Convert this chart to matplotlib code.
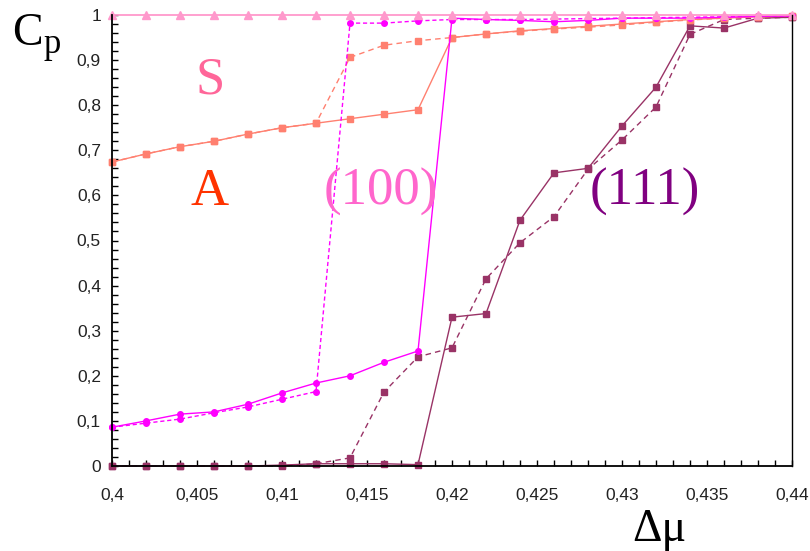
import matplotlib.pyplot as plt
from matplotlib.ticker import MultipleLocator, FixedLocator

# delta mu values (every 0.002)
dmu = [0.400, 0.402, 0.404, 0.406, 0.408, 0.410, 0.412, 0.414, 0.416, 0.418, 0.420,
       0.422, 0.424, 0.426, 0.428, 0.430, 0.432, 0.434, 0.436, 0.438, 0.440]

# S phase
s_cp = [1.0] * 21

# A phase (solid / dashed)
a_solid = [0.674, 0.692, 0.708, 0.720, 0.736, 0.750, 0.760, 0.770, 0.780, 0.790, 0.950,
           0.958, 0.965, 0.970, 0.975, 0.980, 0.985, 0.990, 0.993, 0.996, 0.998]
a_dash = [0.674, 0.692, 0.708, 0.720, 0.736, 0.750, 0.760, 0.906, 0.933, 0.943, 0.950,
          0.958, 0.964, 0.969, 0.973, 0.978, 0.984, 0.989, 0.993, 0.996, 0.998]

# (100) surface (solid / dashed)
f100_solid = [0.086, 0.100, 0.115, 0.120, 0.137, 0.162, 0.184, 0.200, 0.230, 0.255, 0.993,
              0.990, 0.988, 0.985, 0.988, 0.993, 0.993, 0.993, 0.995, 0.997, 0.998]
f100_dash = [0.086, 0.095, 0.104, 0.118, 0.131, 0.148, 0.165, 0.982, 0.982, 0.987, 0.990,
             0.990, 0.990, 0.991, 0.992, 0.993, 0.994, 0.995, 0.996, 0.997, 0.998]

# (111) surface (solid / dashed)
f111_solid = [0.0, 0.0, 0.0, 0.0, 0.0, 0.002, 0.005, 0.005, 0.005, 0.003, 0.330,
              0.338, 0.545, 0.650, 0.660, 0.754, 0.840, 0.976, 0.971, 0.993, 0.995]
f111_dash = [0.0, 0.0, 0.0, 0.0, 0.0, 0.0, 0.005, 0.018, 0.164, 0.242, 0.262,
             0.415, 0.495, 0.553, 0.658, 0.723, 0.796, 0.957, 0.990, 0.993, 0.995]

x_ticks = [0.40, 0.405, 0.41, 0.415, 0.42, 0.425, 0.43, 0.435, 0.44]
x_labels = ['0,4', '0,405', '0,41', '0,415', '0,42', '0,425', '0,43', '0,435', '0,44']
y_ticks = [0, 0.1, 0.2, 0.3, 0.4, 0.5, 0.6, 0.7, 0.8, 0.9, 1.0]
y_labels = ['0', '0,1', '0,2', '0,3', '0,4', '0,5', '0,6', '0,7', '0,8', '0,9', '1']

c_s = '#FF99CC'
c_a = '#FF8070'
c_100 = '#FF00FF'
c_111 = '#993366'

fig = plt.figure(figsize=(8.1, 5.51), dpi=100)
ax = fig.add_axes([112 / 810, 85 / 551, 680 / 810, 451 / 551])

lw = 1.0
ax.plot(dmu, f111_solid, color=c_111, lw=lw, marker='s', ms=4, clip_on=False)
ax.plot(dmu, f111_dash, color=c_111, lw=lw, ls=(0, (4, 3)), marker='s', ms=4, clip_on=False)
ax.plot(dmu, a_solid, color=c_a, lw=lw, marker='s', ms=4, clip_on=False)
ax.plot(dmu, a_dash, color=c_a, lw=lw, ls=(0, (4, 3)), marker='s', ms=4, clip_on=False)
ax.plot(dmu, f100_solid, color=c_100, lw=lw, marker='o', ms=4, clip_on=False)
ax.plot(dmu, f100_dash, color=c_100, lw=lw, ls=(0, (3, 2)), marker='o', ms=4, clip_on=False)
ax.plot(dmu, s_cp, color=c_s, lw=1.3, marker='^', ms=5.5, clip_on=False)

ax.set_xlim(0.4, 0.44)
ax.set_ylim(0, 1)

ax.xaxis.set_major_locator(FixedLocator(x_ticks))
ax.set_xticklabels(x_labels)
ax.xaxis.set_minor_locator(MultipleLocator(0.001))
ax.yaxis.set_major_locator(FixedLocator(y_ticks))
ax.set_yticklabels(y_labels)
ax.yaxis.set_minor_locator(MultipleLocator(0.02))

ax.tick_params(which='both', direction='in', length=4, width=1, color='black')
ax.tick_params(axis='x', which='major', pad=16)
ax.tick_params(axis='y', which='major', pad=8)
for lab in ax.get_xticklabels() + ax.get_yticklabels():
    lab.set_fontfamily('Liberation Sans')
    lab.set_fontsize(12.5)
    lab.set_color('#222222')

ax.spines['top'].set_visible(False)
for side in ['left', 'bottom']:
    ax.spines[side].set_linewidth(1.3)
ax.spines['right'].set_linewidth(1.0)

serif = 'Liberation Serif'
ax.text(0.40576, 0.827, 'S', color='#FF6699', fontsize=38, family=serif, ha='center', va='baseline')
ax.text(0.40576, 0.579, 'A', color='#FF3300', fontsize=38, family=serif, ha='center', va='baseline')
ax.text(0.41582, 0.579, '(100)', color='#FF66CC', fontsize=38, family=serif, ha='center', va='baseline')
ax.text(0.43135, 0.579, '(111)', color='#800080', fontsize=38, family=serif, ha='center', va='baseline')

fig.text(12 / 810, (551 - 45) / 551, 'C', fontsize=33, family=serif, va='baseline')
fig.text(44 / 810, (551 - 53) / 551, 'p', fontsize=25, family=serif, va='baseline')
fig.text(632 / 810, (551 - 541) / 551, 'Δμ', fontsize=33, family=serif, va='baseline')

fig.savefig('out.png', dpi=100)
